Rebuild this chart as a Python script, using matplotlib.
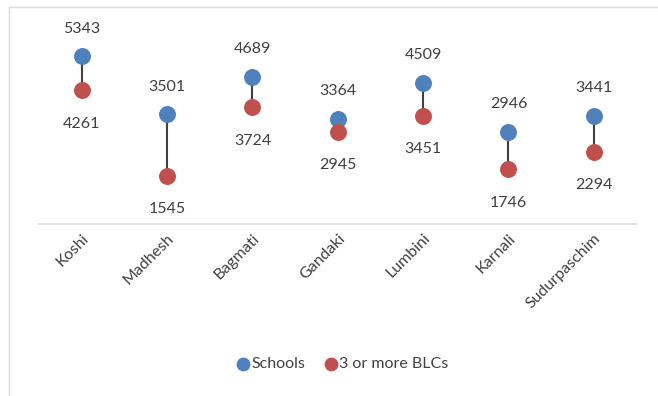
import matplotlib.pyplot as plt
from matplotlib.lines import Line2D

plt.rcParams['font.family'] = ['Lato', 'DejaVu Sans']

provinces = ['Koshi', 'Madhesh', 'Bagmati', 'Gandaki', 'Lumbini', 'Karnali', 'Sudurpaschim']
schools = [5343, 3501, 4689, 3364, 4509, 2946, 3441]
blcs = [4261, 1545, 3724, 2945, 3451, 1746, 2294]

blue = '#4F81BD'
red = '#C0504D'
txt = '#404040'

fig = plt.figure(figsize=(6.58, 3.96), dpi=100)
ax = fig.add_axes([0.0593, 0.434, 0.908, 0.515])

x = range(len(provinces))
# connector lines
for i in x:
    ax.plot([i, i], [blcs[i], schools[i]], color='#404040', lw=1.5, zorder=1)
ax.scatter(x, schools, s=125, color=blue, zorder=3, label='Schools')
ax.scatter(x, blcs, s=125, color=red, zorder=3, label='3 or more BLCs')

for i in x:
    ax.annotate(str(schools[i]), (i, schools[i]), xytext=(0, 20), textcoords='offset points',
                ha='center', va='center', fontsize=11.5, color=txt)
    ax.annotate(str(blcs[i]), (i, blcs[i]), xytext=(0, -24), textcoords='offset points',
                ha='center', va='center', fontsize=11.5, color=txt)

ax.set_xlim(-0.5, 6.5)
ax.set_ylim(0, 6500)
ax.set_yticks([])
ax.set_xticks(list(x))
ax.set_xticklabels(provinces, rotation=45, ha='right', rotation_mode='anchor',
                   fontsize=11.5, color=txt)
ax.tick_params(axis='x', length=0, pad=5)
for side in ['top', 'right', 'left']:
    ax.spines[side].set_visible(False)
ax.spines['bottom'].set_color('#D9D9D9')
ax.spines['bottom'].set_linewidth(1.2)

fig.legend(loc='center', bbox_to_anchor=(343 / 658, 1 - 364 / 396), ncol=2, frameon=False,
           fontsize=11.5, handlelength=0.7, handletextpad=0.15, columnspacing=1.3,
           markerscale=0.8, labelcolor=txt)

# chart area border (top and left edges)
fig.add_artist(Line2D([8.5 / 658, 8.5 / 658, 1], [0, 1 - 6.5 / 396, 1 - 6.5 / 396],
                      transform=fig.transFigure, color='#D9D9D9', lw=1))

fig.savefig('out.png', dpi=100)
